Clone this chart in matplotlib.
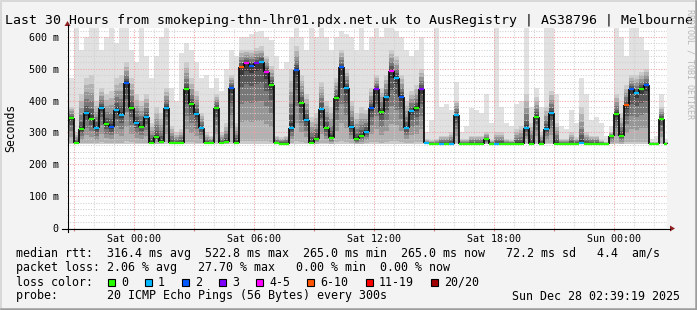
import numpy as np
import pandas as pd
import matplotlib
matplotlib.use("Agg")
import matplotlib.pyplot as plt
import matplotlib.dates as mdates
from matplotlib.ticker import MultipleLocator, FixedLocator, FixedFormatter
from matplotlib.patches import Rectangle, Polygon

# 15 minute steps starting Fri 20:45
START = "2025-12-26 20:45"
STEP = "15min"

# median rtt per step (ms)
MEDIAN = [345, 267, 310, 360, 343, 313, 377, 326, 317, 372,
          355, 455, 377, 330, 318, 350, 268, 285, 270, 377,
          267, 266, 267, 435, 388, 357, 315, 266, 266, 377,
          267, 270, 440, 268, 505, 518, 510, 518, 522, 490,
          450, 266, 265, 265, 314, 496, 393, 340, 268, 280,
          373, 314, 283, 408, 504, 440, 316, 278, 288, 303,
          377, 435, 365, 410, 493, 471, 412, 315, 366, 377,
          435, 266, 265, 265, 265, 265, 265, 355, 265, 265,
          265, 265, 265, 278, 265, 265, 265, 265, 265, 265,
          265, 314, 265, 350, 265, 310, 361, 265, 265, 265,
          265, 265, 266, 265, 265, 265, 265, 265, 288, 358,
          288, 385, 435, 424, 437, 448, 265, 265, 343, 265]
# upper edge of the dense smoke (ms)
CORE = [380, 300, 420, 470, 480, 400, 440, 420, 430, 470,
        480, 520, 470, 420, 400, 420, 330, 380, 360, 440,
        320, 300, 310, 520, 470, 430, 360, 300, 290, 420,
        300, 330, 480, 330, 560, 560, 560, 565, 570, 540,
        510, 290, 285, 290, 500, 570, 480, 420, 350, 360,
        460, 400, 380, 470, 560, 500, 400, 360, 380, 370,
        440, 480, 440, 480, 560, 540, 480, 400, 430, 450,
        500, 280, 275, 280, 290, 290, 300, 400, 280, 280,
        290, 290, 290, 300, 275, 300, 300, 280, 275, 310,
        320, 420, 330, 410, 300, 380, 430, 330, 280, 280,
        300, 285, 380, 300, 290, 290, 275, 270, 300, 420,
        360, 450, 480, 480, 490, 500, 270, 270, 380, 270]
# highest ping per step (ms)
MAX = [470, 628, 560, 600, 628, 628, 560, 600, 628, 580,
       628, 628, 560, 520, 628, 540, 470, 540, 600, 628,
       440, 400, 550, 580, 560, 520, 470, 480, 440, 470,
       430, 500, 560, 540, 600, 600, 610, 615, 620, 600,
       590, 540, 500, 520, 600, 628, 600, 560, 628, 600,
       628, 600, 560, 600, 620, 610, 600, 560, 628, 560,
       600, 628, 600, 628, 628, 620, 600, 560, 540, 560,
       600, 300, 340, 628, 380, 390, 370, 460, 300, 320,
       377, 372, 360, 420, 330, 628, 380, 330, 320, 390,
       400, 628, 380, 440, 380, 628, 628, 420, 320, 310,
       370, 330, 470, 420, 340, 350, 330, 290, 320, 628,
       600, 540, 628, 628, 600, 560, 280, 290, 420, 280]
# lost pings out of 20 per step
LOSS = [0, 0, 0, 1, 0, 1, 1, 0, 2, 1,
        1, 2, 0, 1, 0, 1, 0, 0, 0, 1,
        0, 0, 0, 0, 0, 1, 1, 0, 0, 0,
        0, 0, 2, 0, 6, 4, 2, 3, 1, 4,
        0, 0, 0, 0, 1, 2, 0, 1, 0, 0,
        1, 0, 0, 0, 2, 1, 1, 0, 0, 1,
        2, 3, 0, 1, 4, 1, 2, 1, 1, 0,
        3, 1, 0, 0, 1, 0, 1, 1, 0, 0,
        0, 0, 0, 0, 0, 1, 0, 0, 0, 0,
        0, 1, 0, 0, 0, 1, 1, 0, 0, 0,
        0, 0, 1, 0, 0, 0, 0, 0, 0, 0,
        0, 6, 2, 1, 0, 2, 0, 0, 0, 0]
FLOOR = 264.0

LOSS_LABELS = ["0", "1", "2", "3", "4-5", "6-10", "11-19", "20/20"]
LOSS_COLORS = ["#26ff00", "#00b8ff", "#0059ff", "#7e00ff",
               "#ff00ff", "#ff5500", "#ff0000", "#a00000"]
LOSS_UPPER = [0, 1, 2, 3, 5, 10, 19, 20]

XTICK_TIMES = ["2025-12-27 00:00", "2025-12-27 06:00", "2025-12-27 12:00",
               "2025-12-27 18:00", "2025-12-28 00:00"]
XTICK_LABELS = ["Sat 00:00", "Sat 06:00", "Sat 12:00", "Sat 18:00", "Sun 00:00"]
YTICKS = [0, 100, 200, 300, 400, 500, 600]
YTICK_LABELS = ["0", "100 m", "200 m", "300 m", "400 m", "500 m", "600 m"]

RTT = {"avg": 316.4, "max": 522.8, "min": 265.0, "now": 265.0, "sd": 72.2, "am/s": 4.4}
LOSS_PCT = {"avg": 2.06, "max": 27.70, "min": 0.00, "now": 0.00}
TITLE = "Last 30 Hours from smokeping-thn-lhr01.pdx.net.uk to AusRegistry | AS38796 | Melbourne"
PROBE = "20 ICMP Echo Pings (56 Bytes) every 300s"
STAMP = "Sun Dec 28 02:39:19 2025"

MONO = "DejaVu Sans Mono"
W, H = 697, 310

fig = plt.figure(figsize=(W / 100, H / 100), dpi=100, facecolor="#f3f3f3")
ax = fig.add_axes([67 / W, 1 - 228 / H, 600 / W, 200 / H])
ax.set_facecolor("white")

times = pd.date_range(START, periods=len(MEDIAN), freq=STEP)
t = mdates.date2num(times)
dt = t[1] - t[0]
edges = np.append(t, t[-1] + dt)

med = np.array(MEDIAN, float)
core = np.array(CORE, float)
top = np.array(MAX, float)


def ext(a):
    return np.append(a, a[-1])


# smoke: light outer band, darker towards the median
ax.fill_between(edges, ext(np.full_like(med, FLOOR)), ext(top), step="post",
                color="#e1e1e1", lw=0, zorder=1)
layers = [(1.0, "#cbcbcb"), (0.8, "#b2b2b2"), (0.6, "#969696"),
          (0.4, "#787878"), (0.22, "#585858"), (0.08, "#383838")]
for f, c in layers:
    lo = med - (med - FLOOR) * min(1.0, f * 1.2)
    hi = med + (core - med) * f
    ax.fill_between(edges, ext(lo), ext(hi), step="post", color=c, lw=0, zorder=1)

# median: black risers, loss-coloured treads
bucket = [next(k for k, u in enumerate(LOSS_UPPER) if n <= u) for n in LOSS]
ax.vlines(t[1:], med[:-1], med[1:], colors="black", lw=1.2, zorder=3)
ax.hlines(med, edges[:-1], edges[1:], colors=[LOSS_COLORS[b] for b in bucket],
          lw=1.6, zorder=4)

# axes, grid
ax.set_xlim(mdates.date2num(pd.Timestamp("2025-12-26 20:39:19")),
            mdates.date2num(pd.Timestamp("2025-12-28 02:39:19")))
ax.set_ylim(0, 628)
for s in ax.spines.values():
    s.set_visible(False)

major_t = pd.date_range("2025-12-26 21:00", "2025-12-28 02:00", freq="3h")
major_x = mdates.date2num(major_t)
lab = dict(zip(mdates.date2num(pd.to_datetime(XTICK_TIMES)), XTICK_LABELS))
ax.xaxis.set_major_locator(FixedLocator(major_x))
ax.xaxis.set_major_formatter(FixedFormatter([lab.get(x, "") for x in major_x]))
ax.xaxis.set_minor_locator(mdates.HourLocator())
ax.yaxis.set_major_locator(FixedLocator(YTICKS))
ax.yaxis.set_major_formatter(FixedFormatter(YTICK_LABELS))
ax.yaxis.set_minor_locator(MultipleLocator(20))

ax.set_axisbelow(False)
ax.grid(which="minor", color="#cfcfcf", lw=0.75, ls=(0, (1, 1.5)))
ax.grid(which="major", color="#f2a0a0", lw=0.75, ls=(0, (1, 1.5)))
ax.tick_params(axis="x", which="major", length=2.2, color="#e08080", labelsize=7.2,
               pad=2.0, labelfontfamily=MONO)
ax.tick_params(axis="x", which="minor", length=0)
ax.tick_params(axis="y", which="both", length=0, labelsize=7.2, pad=6.0,
               labelfontfamily=MONO)

# overlay in pixel coordinates
ov = fig.add_axes([0, 0, 1, 1])
ov.set_xlim(0, W)
ov.set_ylim(H, 0)
ov.axis("off")

ov.plot([62, 670], [228.5, 228.5], color="black", lw=0.8)
ov.plot([67.5, 67.5], [232, 25], color="black", lw=0.8)
ov.add_patch(Polygon([(670, 225.5), (670, 231.5), (675, 228.5)], color="#902020", lw=0))
ov.add_patch(Polygon([(64.5, 26), (70.5, 26), (67.5, 21)], color="#902020", lw=0))

# frame
ov.plot([1, 1, W - 1], [H - 1, 1, 1], color="#d8d8d8", lw=1.4)
ov.plot([1, W - 1, W - 1], [H - 1, H - 1, 1], color="#9c9c9c", lw=1.8)

ov.text(5, 24, TITLE, family=MONO, fontsize=9.5, va="baseline", ha="left")
ov.text(10.5, 128, "Seconds", family=MONO, fontsize=8.3, rotation=90,
        va="center", ha="center")
ov.text(690, 64, "RRDTOOL / TOBI OETIKER", family=MONO, fontsize=6.0, rotation=270,
        va="center", ha="center", color="#b8b8b8")

lines = [
    (254, "median rtt:  %.1f ms avg  %.1f ms max  %.1f ms min  %.1f ms now  %5.1f ms sd  %4.1f  am/s"
     % (RTT["avg"], RTT["max"], RTT["min"], RTT["now"], RTT["sd"], RTT["am/s"])),
    (268, "packet loss: %.2f %% avg   %.2f %% max   %.2f %% min  %.2f %% now"
     % (LOSS_PCT["avg"], LOSS_PCT["max"], LOSS_PCT["min"], LOSS_PCT["now"])),
    (282, "loss color:"),
    (296, "probe:       " + PROBE),
]
for y, s in lines:
    ov.text(15.5, y, s, family=MONO, fontsize=8.4, va="center", ha="left")
ov.text(680, 296, STAMP, family=MONO, fontsize=8.4, va="center", ha="right")

cw = 7.05
x = 108
for lbl, col in zip(LOSS_LABELS, LOSS_COLORS):
    ov.add_patch(Rectangle((x, 278.5), 7, 7, facecolor=col, edgecolor="black", lw=0.8))
    ov.text(x + 13, 282, lbl, family=MONO, fontsize=8.4, va="center", ha="left")
    x += 13 + len(lbl) * cw + 17

fig.savefig("out.png", dpi=100, facecolor=fig.get_facecolor())
